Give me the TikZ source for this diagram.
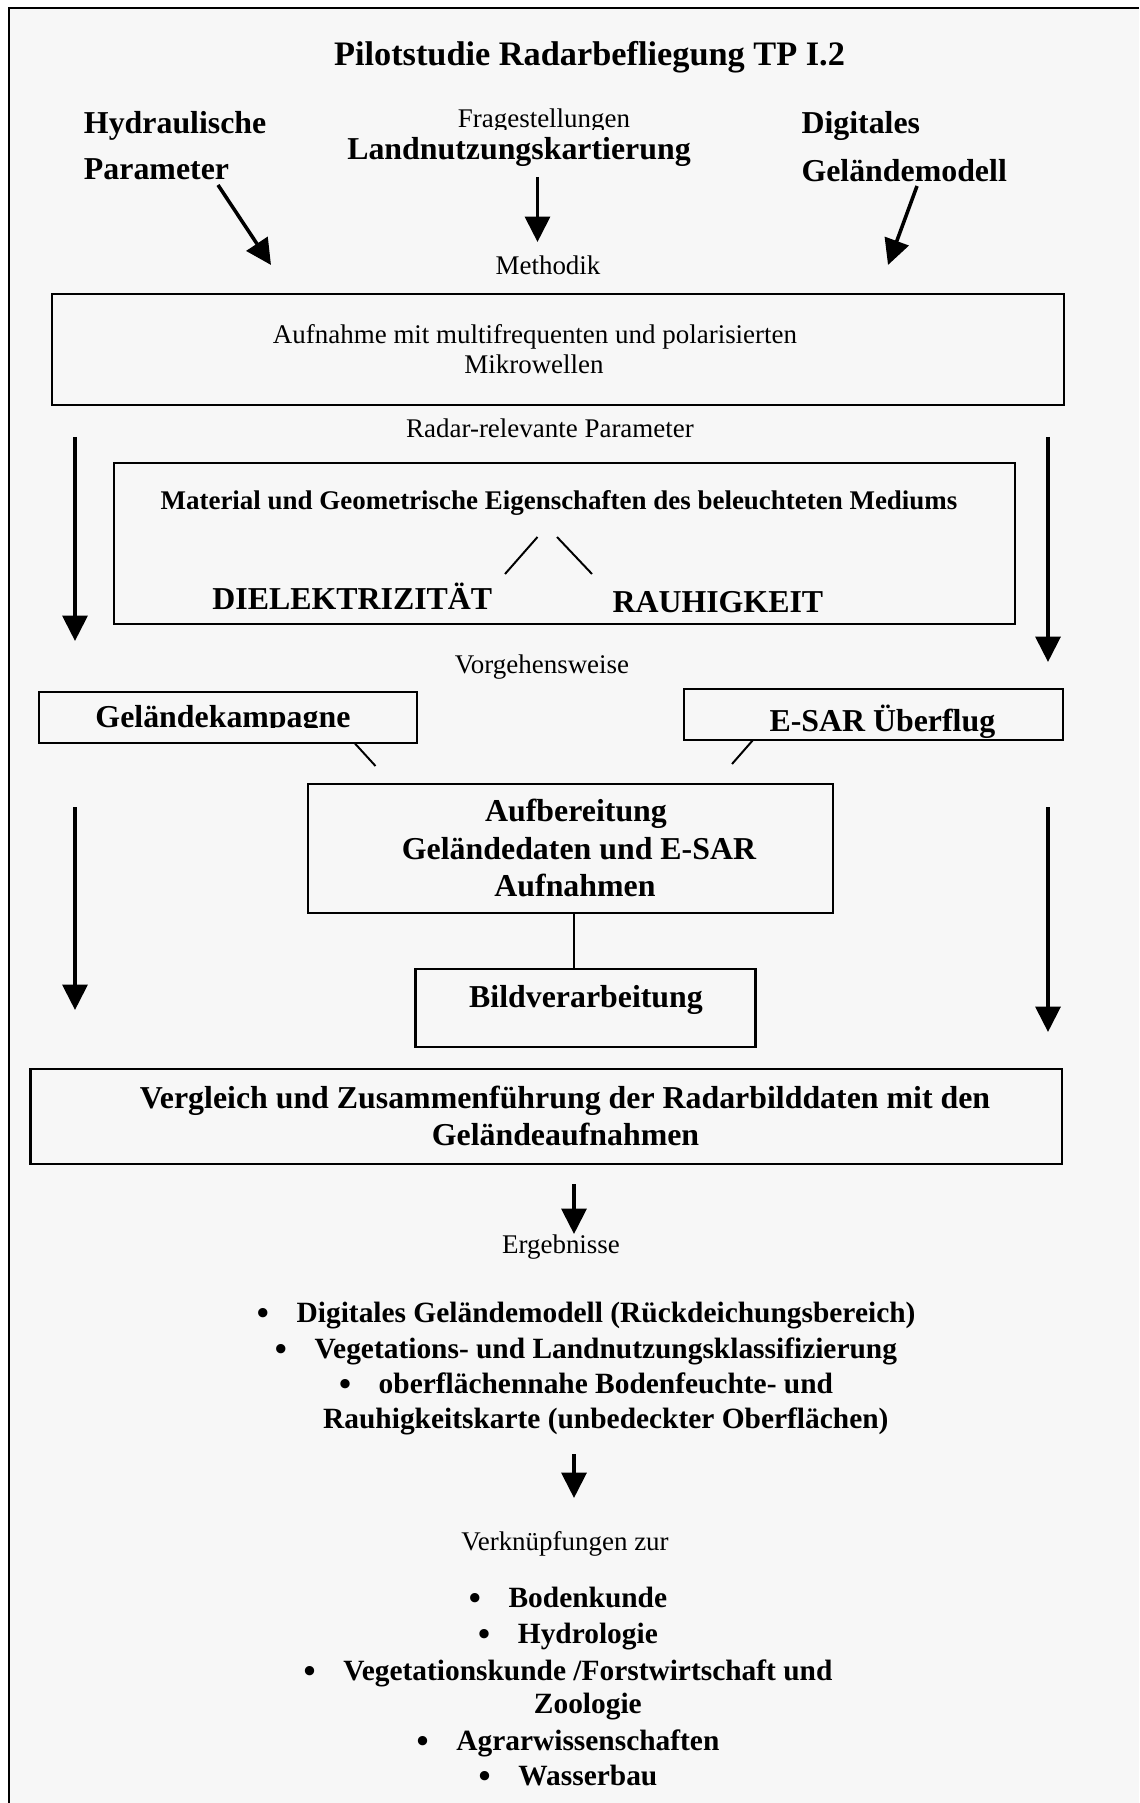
\documentclass[tikz,border=0pt]{standalone}
\usepackage{fontspec}
\setmainfont{Liberation Serif}
\usepackage{tikz}
\usetikzlibrary{arrows.meta}
\definecolor{paper}{HTML}{F7F7F7}
\tikzset{>={Triangle[length=10.4pt,width=10.2pt]},
  ttl/.style={font=\fontsize{14}{17}\selectfont\bfseries,anchor=base,inner sep=0pt},
  hd/.style={font=\fontsize{13}{15}\selectfont\bfseries,anchor=base,inner sep=0pt},
  lst/.style={font=\fontsize{12}{14}\selectfont\bfseries,anchor=base,inner sep=0pt},
  sm/.style={font=\fontsize{11}{13}\selectfont,anchor=base,inner sep=0pt},
  smb/.style={font=\fontsize{11}{13}\selectfont\bfseries,anchor=base,inner sep=0pt},
  box/.style={draw,line width=1.05pt,inner sep=0pt,outer sep=0pt},
  arr/.style={->,line width=1.45pt},
  tie/.style={line width=0.8pt}}
\newcommand{\px}{0.408pt}
\newcommand{\bul}{\raisebox{-1pt}{\fontsize{14}{14}\selectfont\textbullet}\hspace{11.3pt}}
\begin{document}
\begin{tikzpicture}[x=0.408pt,y=-0.408pt]
  \useasboundingbox (0,0) rectangle (1139,1803);
  \fill[white] (0,0) rectangle (1139,1803);
  \fill[paper] (9,8) rectangle (1139,1803);
  \draw[line width=1.05pt] (9,1803) -- (9,8) -- (1139,8);

  \node[ttl] (title) at (589.5,66) {Pilotstudie Radarbefliegung TP I.2};

  % Fragestellungen
  \node[hd,anchor=base west] (hyd1) at (83.5,133.5) {Hydraulische};
  \node[hd,anchor=base west] (hyd2) at (83.5,180) {Parameter};
  \begin{scope}
    \clip (400,90) rectangle (700,129.5);
    \node[sm] (frage) at (544,128) {Fragestellungen};
  \end{scope}
  \node[hd] (landn) at (519,160) {Landnutzungskartierung};
  \node[hd,anchor=base west] (dgm1) at (801,133.5) {Digitales};
  \node[hd,anchor=base west] (dgm2) at (801,181.5) {Geländemodell};

  \coordinate (a1s) at (218,185);
  \coordinate (a1e) at (271,265);
  \coordinate (a2s) at (537.5,177);
  \coordinate (a2e) at (537.5,242);
  \coordinate (a3s) at (917,186);
  \coordinate (a3e) at (888,265);
  \draw[arr] (a1s) -- (a1e);
  \draw[arr] (a2s) -- (a2e);
  \draw[arr] (a3s) -- (a3e);

  % Methodik
  \node[sm] (meth) at (548,275) {Methodik};
  \node[box,minimum width=1012*\px,minimum height=111*\px] (mw) at (558,349.5) {};
  \node[sm] (mw1) at (535,343.3) {Aufnahme mit multifrequenten und polarisierten};
  \node[sm] (mw2) at (534,373.3) {Mikrowellen};

  \node[sm] (radar) at (550,438) {Radar-relevante Parameter};
  \node[box,minimum width=901*\px,minimum height=161*\px] (me) at (564.5,543.5) {};
  \node[smb] (matl) at (559,509.3) {Material und Geometrische Eigenschaften des beleuchteten Mediums};
  \coordinate (fl) at (537.5,537);
  \coordinate (fr) at (557,537);
  \draw[tie] (fl) -- ++(-32.5,37);
  \draw[tie] (fr) -- ++(35,37);
  \node[hd,anchor=base west] (diel) at (212,609.3) {DIELEKTRIZITÄT};
  \node[hd,anchor=base west] (rauh) at (612,612.7) {RAUHIGKEIT};

  % seitliche Pfeile
  \coordinate (l1) at (75,437);
  \coordinate (l2) at (75,641);
  \coordinate (r1) at (1048,437);
  \coordinate (r2) at (1048,662);
  \coordinate (l3) at (75,807);
  \coordinate (l4) at (75,1010);
  \coordinate (r3) at (1048,807);
  \coordinate (r4) at (1048,1032);
  \draw[arr] (l1) -- (l2);
  \draw[arr] (r1) -- (r2);
  \draw[arr] (l3) -- (l4);
  \draw[arr] (r3) -- (r4);

  % Vorgehensweise
  \node[sm] (vorg) at (542,673.3) {Vorgehensweise};
  \node[box,minimum width=378*\px,minimum height=51*\px] (gk) at (228,717.5) {};
  \begin{scope}
    \clip (39,692) rectangle (417,727.5);
    \node[hd,anchor=base west] (gkt) at (95,727) {Geländekampagne};
  \end{scope}
  \node[box,minimum width=379*\px,minimum height=51*\px] (es) at (873.5,714.5) {};
  \node[hd,anchor=base west] (est) at (769,731) {E-SAR Überflug};
  \draw[tie] ([xshift=-62.5*\px]gk.south east) -- ++(21,23);
  \draw[tie] ([xshift=69*\px]es.south west) -- ++(-21,24);

  \node[box,minimum width=525*\px,minimum height=129*\px] (ab) at (570.5,848.5) {};
  \node[hd] (ab1) at (576,821.7) {Aufbereitung};
  \node[hd] (ab2) at (579,859.3) {Geländedaten und E-SAR};
  \node[hd] (ab3) at (575,896.7) {Aufnahmen};

  \node[box,minimum width=340*\px,minimum height=78*\px] (bv) at (585.5,1008) {};
  \node[hd] (bvt) at (586,1007.3) {Bildverarbeitung};
  \draw[tie] ([xshift=3.5*\px]ab.south) -- ([xshift=3.5*\px]ab.south |- bv.north);

  \node[box,minimum width=1031.5*\px,minimum height=95*\px] (vg) at (546.25,1116.5) {};
  \node[hd] (vg1) at (565,1108.3) {Vergleich und Zusammenführung der Radarbilddaten mit den};
  \node[hd] (vg2) at (565.5,1145) {Geländeaufnahmen};

  % Ergebnisse
  \coordinate (e0s) at (574,1184);
  \coordinate (e0e) at (574,1234);
  \draw[arr] (e0s) -- (e0e);
  \node[sm] (erg) at (561,1253.3) {Ergebnisse};
  \node[lst] (e1) at (586.2,1322) {\bul Digitales Geländemodell (Rückdeichungsbereich)};
  \node[lst] (e2) at (586,1358) {\bul Vegetations- und Landnutzungsklassifizierung};
  \node[lst] (e3) at (586,1393) {\bul oberflächennahe Bodenfeuchte- und};
  \node[lst] (e4) at (586,1428) {\phantom{\bul}Rauhigkeitskarte (unbedeckter Oberflächen)};

  \coordinate (v0s) at (574,1454);
  \coordinate (v0e) at (574,1498);
  \draw[arr] (v0s) -- (v0e);
  \node[sm] (verk) at (565,1550) {Verknüpfungen zur};
  \node[lst] (v1) at (568,1607) {\bul Bodenkunde};
  \node[lst] (v2) at (568,1643) {\bul Hydrologie};
  \node[lst] (v3) at (568,1680) {\bul Vegetationskunde /Forstwirtschaft und};
  \node[lst] (v4) at (568,1713) {\phantom{\bul}Zoologie};
  \node[lst] (v5) at (568,1750) {\bul Agrarwissenschaften};
  \node[lst] (v6) at (568,1785) {\bul Wasserbau};
\end{tikzpicture}
\end{document}
